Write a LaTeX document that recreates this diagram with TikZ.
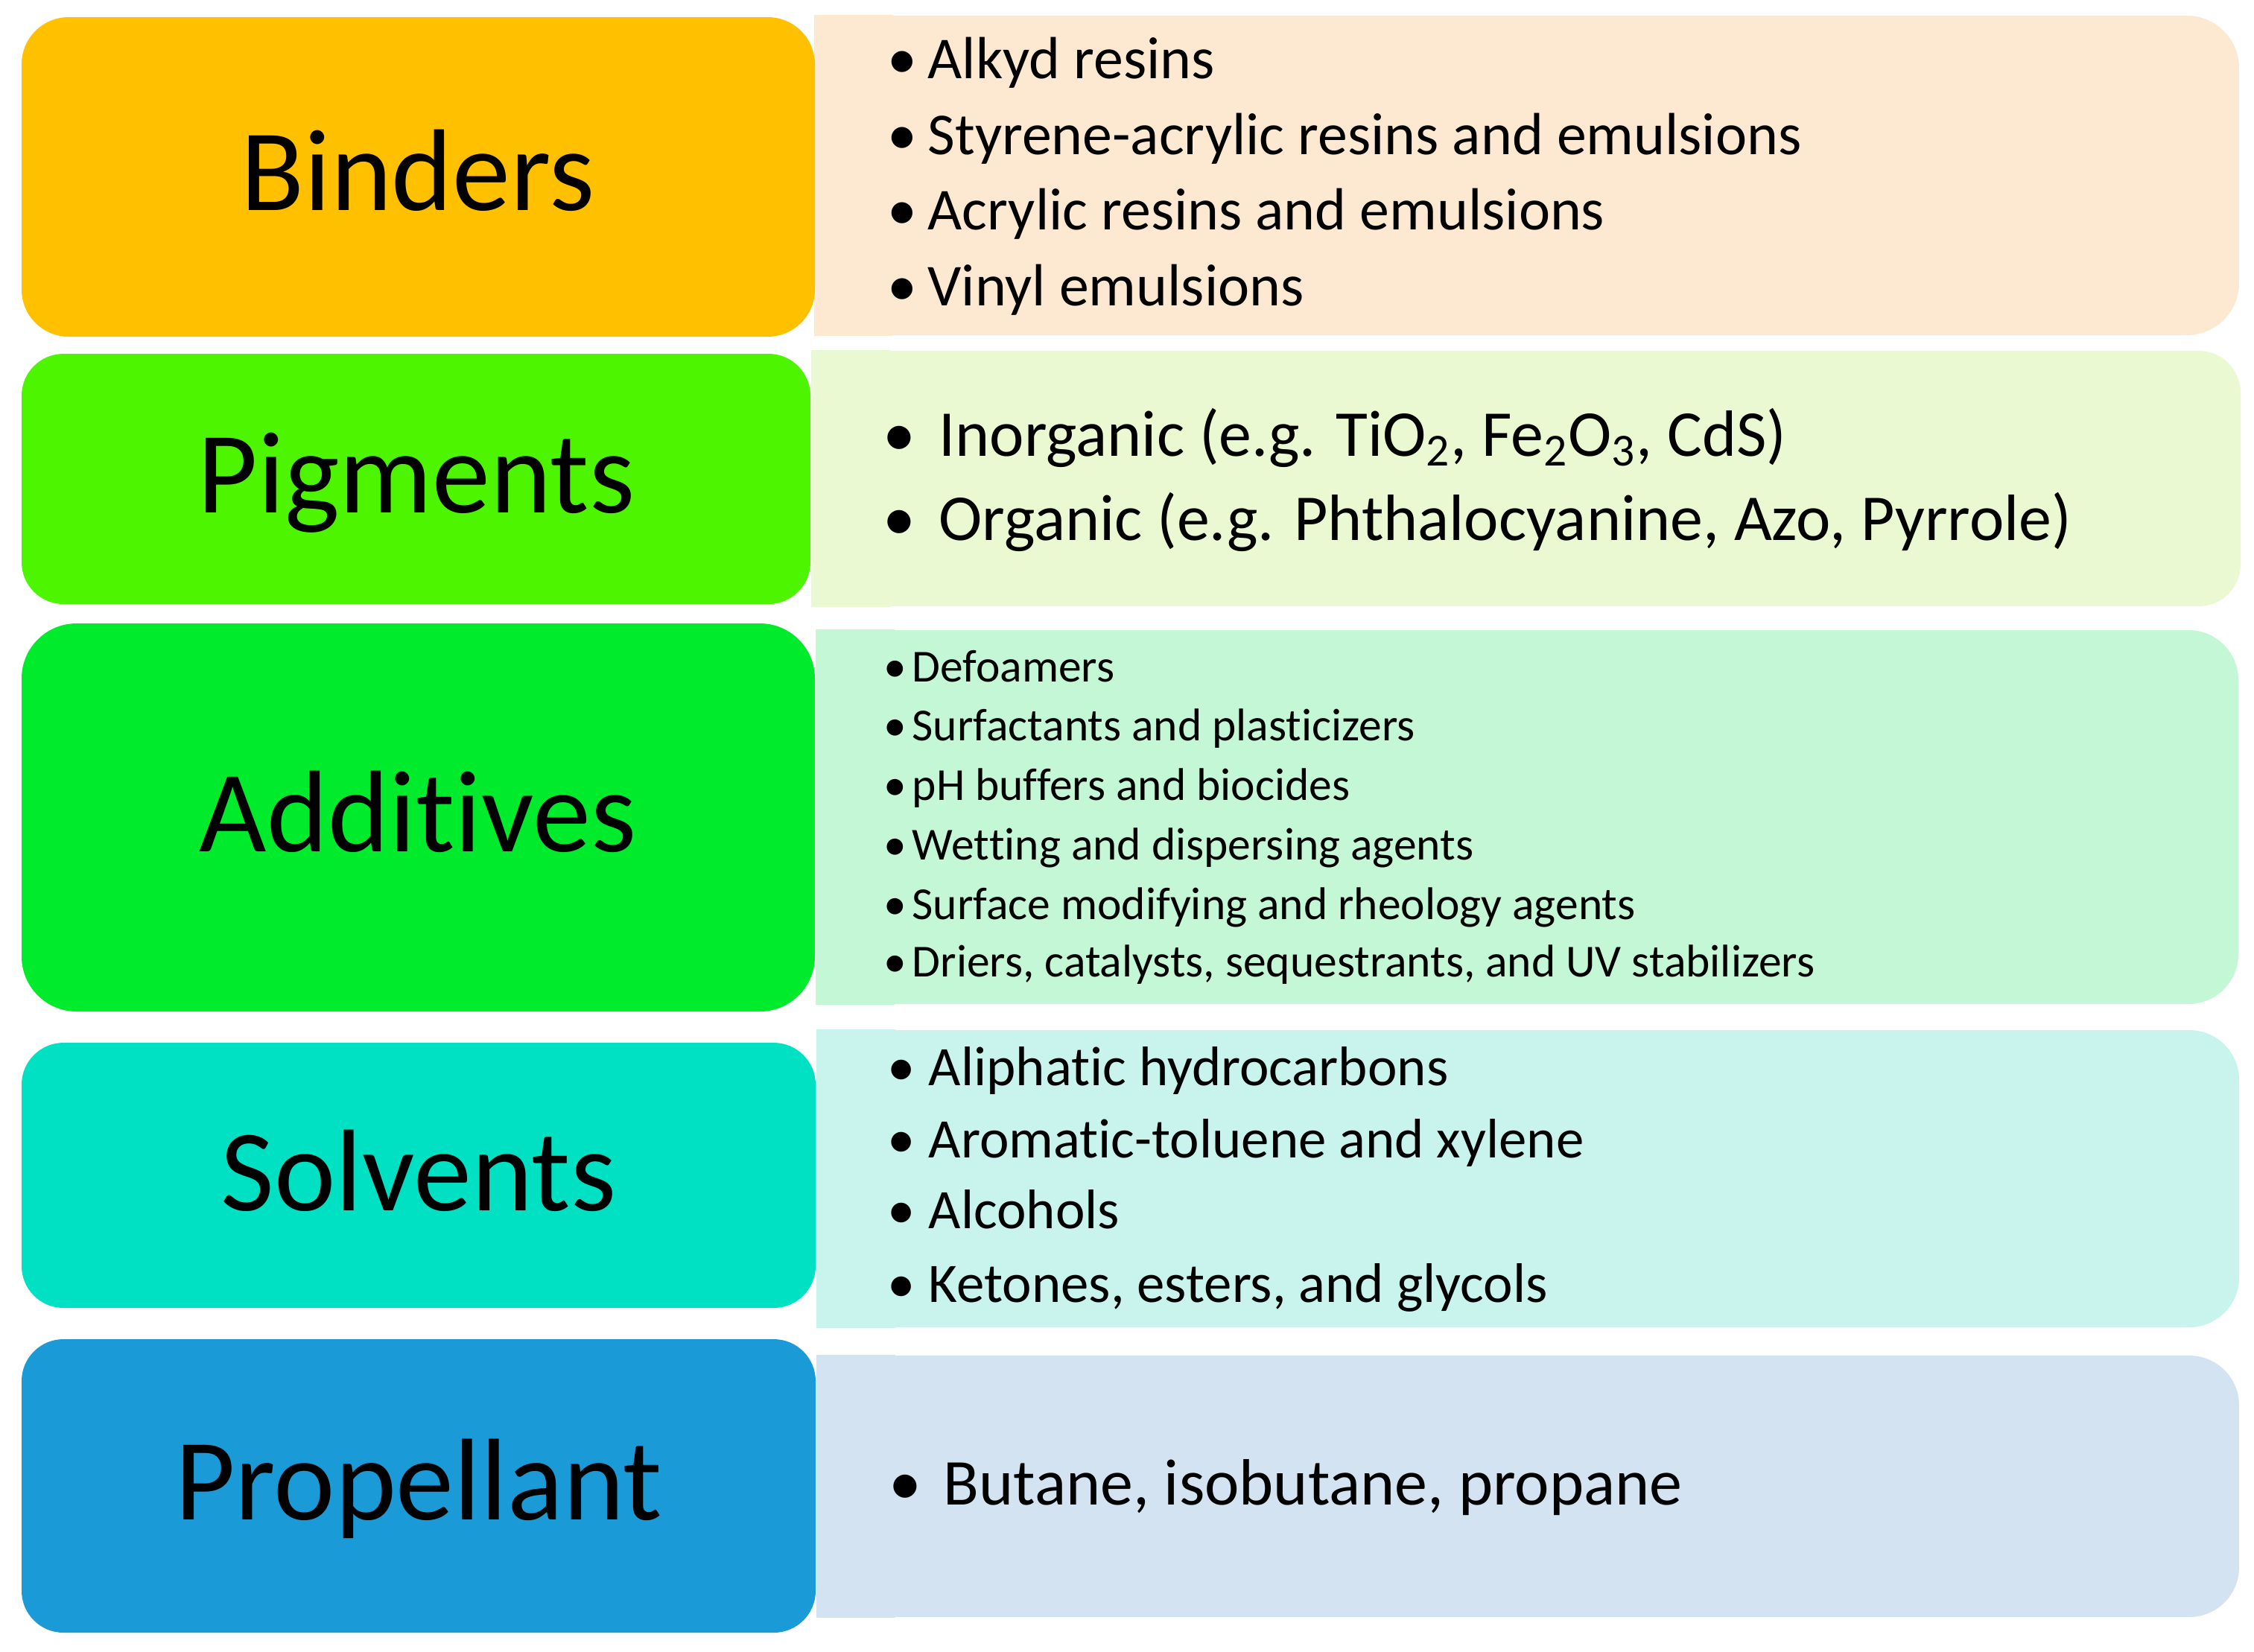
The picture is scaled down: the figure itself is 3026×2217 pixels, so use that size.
\documentclass[tikz,border=0pt]{standalone}
\usepackage{fontspec}
\setmainfont{Carlito}[Ligatures={NoCommon}]
\usetikzlibrary{fit}
\definecolor{lonec}{HTML}{FFC000}\definecolor{ronec}{HTML}{FDE9D2}
\definecolor{ltwoc}{HTML}{4DF600}\definecolor{rtwoc}{HTML}{EBF9D2}
\definecolor{lthreec}{HTML}{00EB2B}\definecolor{rthreec}{HTML}{C4F7D6}
\definecolor{lfourc}{HTML}{00E0C3}\definecolor{rfourc}{HTML}{C9F4EE}
\definecolor{lfivec}{HTML}{1A9AD7}\definecolor{rfivec}{HTML}{D3E3F2}
\tikzset{
  box/.style={inner sep=0pt, draw=none, fill=#1},
  lab/.style={font=\fontsize{44.4}{50}\selectfont, anchor=base, inner sep=0pt},
  itm/.style={anchor=base west, inner sep=0pt},
  fb/.style={font=\fontsize{22.7}{27}\selectfont},
  fp/.style={font=\fontsize{25}{30}\selectfont},
  fa/.style={font=\fontsize{17.5}{21}\selectfont},
  fs/.style={font=\fontsize{21.3}{26}\selectfont},
  fq/.style={font=\fontsize{25}{30}\selectfont},
}
\newcommand\bul[1]{\llap{\makebox[#1][l]{\textbullet}}}
\newcommand\nl{\kern0pt }
\begin{document}
\begin{tikzpicture}[x=0.01cm,y=-0.01cm]
\useasboundingbox (0,0) rectangle (3026,2217);
\fill[white] (0,0) rectangle (3026,2217);
% right boxes
\node[box=ronec, rounded corners=20pt, fit={(1094,21)(3006,450)}] (R1) {};
\fill[ronec] (R1.north west) rectangle ([xshift=30pt]R1.south west);
\node[box=rtwoc, rounded corners=16pt, fit={(1090,471)(3008,814)}] (R2) {};
\fill[rtwoc] (R2.north west) rectangle ([xshift=30pt]R2.south west);
\node[box=rthreec, rounded corners=19pt, fit={(1096,846)(3005,1348)}] (R3) {};
\fill[rthreec] (R3.north west) rectangle ([xshift=30pt]R3.south west);
\node[box=rfourc, rounded corners=19pt, fit={(1097,1383)(3006,1782)}] (R4) {};
\fill[rfourc] (R4.north west) rectangle ([xshift=30pt]R4.south west);
\node[box=rfivec, rounded corners=19pt, fit={(1097,1820)(3006,2171)}] (R5) {};
\fill[rfivec] (R5.north west) rectangle ([xshift=30pt]R5.south west);
% left boxes
\node[box=lonec, rounded corners=18pt, fit={(29,23)(1094,452)}] (L1) {};
\node[box=ltwoc, rounded corners=16pt, fit={(29,475)(1088,811)}] (L2) {};
\node[box=lthreec, rounded corners=21pt, fit={(29,837)(1094,1358)}] (L3) {};
\node[box=lfourc, rounded corners=16pt, fit={(29,1400)(1095,1756)}] (L4) {};
\node[box=lfivec, rounded corners=16pt, fit={(29,1798)(1095,2192)}] (L5) {};
% left labels
\node[lab] (T1) at (561,282) {Binders};
\node[lab] (T2) at (559,688) {Pigments};
\node[lab] (T3) at (561,1143) {Addit\nl ives};
\node[lab] (T4) at (562,1625) {Solvents};
\node[lab] (T5) at (562,2040) {Propellant};
% binders items
\node[itm,fb] (b1) at (1245,105) {\bul{15.4pt}Alkyd resins};
\node[itm,fb] (b2) at (1245,207) {\bul{15.4pt}Styrene-acrylic resins and emulsions};
\node[itm,fb] (b3) at (1245,308) {\bul{15.4pt}Acrylic resins and emulsions};
\node[itm,fb] (b4) at (1245,410) {\bul{15.4pt}Vinyl emulsions};
% pigments items
\node[itm,fp] (p1) at (1260,612) {\bul{21.3pt}Inorganic (e.g. TiO\textsubscript{2}, Fe\textsubscript{2}O\textsubscript{3}, CdS)};
\node[itm,fp] (p2) at (1260,725) {\bul{21.3pt}Organic (e.g. Phthalocyanine, Azo, Pyrrole)};
% additives items
\node[itm,fa] (a1) at (1224,915) {\bul{10.8pt}Defoamers};
\node[itm,fa] (a2) at (1224,994) {\bul{10.8pt}Surfactants and plast\nl icizers};
\node[itm,fa] (a3) at (1224,1074) {\bul{10.8pt}pH buffers and biocides};
\node[itm,fa] (a4) at (1224,1154) {\bul{10.8pt}Wet\nl t\nl ing and dispersing agents};
\node[itm,fa] (a5) at (1224,1234) {\bul{10.8pt}Surface modif\nl ying and rheology agents};
\node[itm,fa] (a6) at (1224,1311) {\bul{10.8pt}Driers, catalysts, sequestrants, and UV stabilizers};
% solvents items
\node[itm,fs] (s1) at (1246,1457) {\bul{15.6pt}Aliphat\nl ic hydrocarbons};
\node[itm,fs] (s2) at (1246,1554) {\bul{15.6pt}Aromat\nl ic-toluene and xylene};
\node[itm,fs] (s3) at (1246,1649) {\bul{15.6pt}Alcohols};
\node[itm,fs] (s4) at (1246,1748) {\bul{15.6pt}Ketones, esters, and glycols};
% propellant item
\node[itm,fq] (q1) at (1266,2020) {\bul{20.8pt}Butane, isobutane, propane};
\end{tikzpicture}
\end{document}
